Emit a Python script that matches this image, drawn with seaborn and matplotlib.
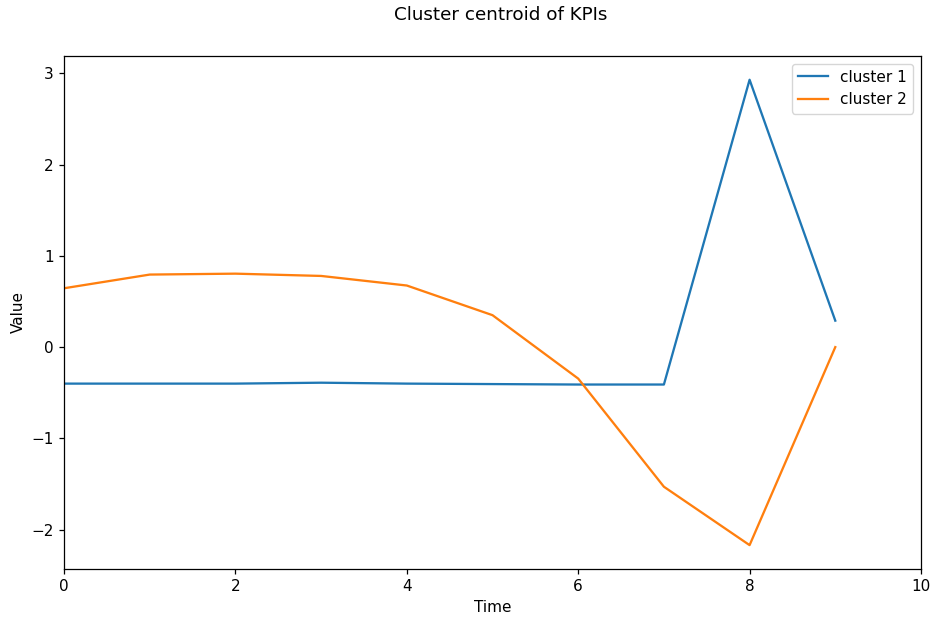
import numpy as np
import pandas as pd
import matplotlib
matplotlib.use("Agg")
import matplotlib.pyplot as plt
import seaborn as sns

time = [0, 1, 2, 3, 4, 5, 6, 7, 8, 9]
cluster_1 = [-0.40, -0.40, -0.40, -0.39, -0.40, -0.405, -0.41, -0.41, 2.93, 0.29]
cluster_2 = [0.645, 0.795, 0.805, 0.78, 0.675, 0.35, -0.345, -1.53, -2.17, 0.0]
labels = ["cluster 1", "cluster 2"]

plt.rcParams.update({
    "font.size": 11,
    "axes.linewidth": 0.9,
    "xtick.major.width": 0.9,
    "ytick.major.width": 0.9,
    "xtick.major.size": 3.8,
    "ytick.major.size": 3.8,
})

fig = plt.figure(figsize=(9.35, 6.19), dpi=100)
ax = fig.add_axes([0.0685, 0.081, 0.9165, 0.8285])

sns.lineplot(x=time, y=cluster_1, ax=ax, label=labels[0], color="#1f77b4", linewidth=1.65)
sns.lineplot(x=time, y=cluster_2, ax=ax, label=labels[1], color="#ff7f0e", linewidth=1.65)

ax.set_xlim(0, 10)
ax.set_ylim(-2.43, 3.19)
ax.set_xlabel("Time")
ax.set_ylabel("Value")
ax.legend(loc="upper right")
fig.suptitle("Cluster centroid of KPIs", x=0.536, y=0.975, va="center", fontsize=13.2)

fig.savefig("out.png", dpi=100)
